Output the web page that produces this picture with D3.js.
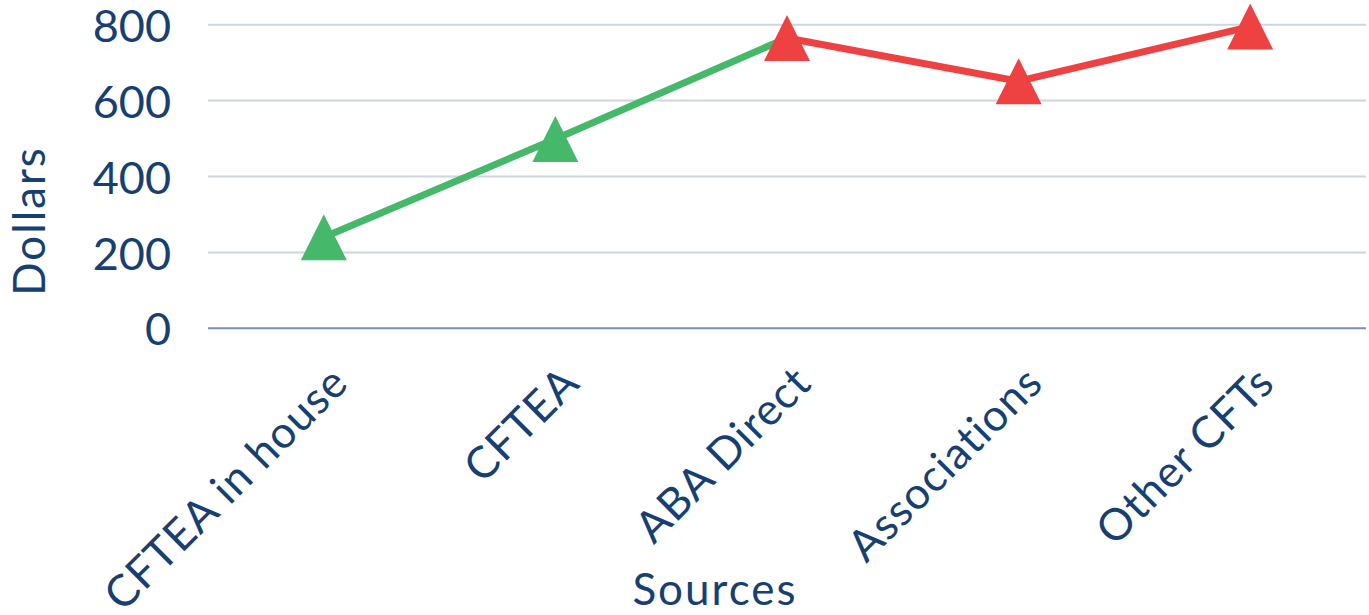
<!DOCTYPE html>
<html><head><meta charset="utf-8">
<script src="https://cdn.jsdelivr.net/npm/d3@7"></script>
<style>body{margin:0;background:#fff}svg{display:block}text{font-family:Lato,"Noto Sans",sans-serif}</style>
</head><body><svg id="c" width="1369" height="615"></svg>
<script>
const categories = ["CFTEA in house","CFTEA","ABA Direct","Associations","Other CFTs"];
const values = [240, 499, 765, 651, 795];
const pointColors = ["#45b86a","#45b86a","#ee4142","#ee4142","#ee4142"];
const yTicks = [0,200,400,600,800];
const yTitle = "Dollars";
const xTitle = "Sources";

const navy = "#183f72";
const svg = d3.select("#c");
const mLeft = 208, mRight = 1366, mTop = 24.7, mBottom = 328.3;
const x = d3.scalePoint().domain(categories).range([mLeft,mRight]).padding(0.5);
const y = d3.scaleLinear().domain([0,800]).range([mBottom,mTop]);

// gridlines
svg.append("g").selectAll("line").data(yTicks).join("line")
  .attr("x1",mLeft).attr("x2",mRight).attr("y1",d=>y(d)).attr("y2",d=>y(d))
  .attr("stroke",d=>d===0?"#7790b8":"#cdd6e1").attr("stroke-width",2);

// y axis labels
const ya = svg.append("g").attr("transform",`translate(${mLeft},0)`)
  .call(d3.axisLeft(y).tickValues(yTicks).tickSize(0).tickPadding(37));
ya.select(".domain").remove();
ya.selectAll("text").attr("fill",navy).style("font-size","45px").attr("dy","0.37em");

// x axis labels
const xa = svg.append("g").attr("transform",`translate(0,${mBottom})`)
  .call(d3.axisBottom(x).tickSize(0));
xa.select(".domain").remove();
xa.selectAll("text").attr("fill",navy).style("font-size","44px").style("letter-spacing","1px")
  .attr("text-anchor","end").attr("dy",null).attr("y",0)
  .attr("transform","translate(26,57) rotate(-45)");

// titles
svg.append("text").attr("fill",navy).style("font-size","44px").style("letter-spacing","2px")
  .attr("text-anchor","middle").attr("transform",`translate(45,221) rotate(-90)`)
  .text(yTitle);
svg.append("text").attr("fill",navy).style("font-size","44px").style("letter-spacing","2px")
  .attr("text-anchor","middle").attr("x",715).attr("y",605).text(xTitle);

// lines
const data = categories.map((c,i)=>({c,v:values[i],col:pointColors[i]}));
const line = d3.line().x(d=>x(d.c)).y(d=>y(d.v));
svg.append("path").datum(data.slice(0,3)).attr("d",line).attr("fill","none")
  .attr("stroke","#45b86a").attr("stroke-width",7);
svg.append("path").datum(data.slice(2)).attr("d",line).attr("fill","none")
  .attr("stroke","#ee4142").attr("stroke-width",7);

// markers
svg.append("g").selectAll("path").data(data).join("path")
  .attr("transform",d=>`translate(${x(d.c)},${y(d.v)})`)
  .attr("d","M0,-23L23,23L-23,23Z").attr("fill",d=>d.col);
</script></body></html>
